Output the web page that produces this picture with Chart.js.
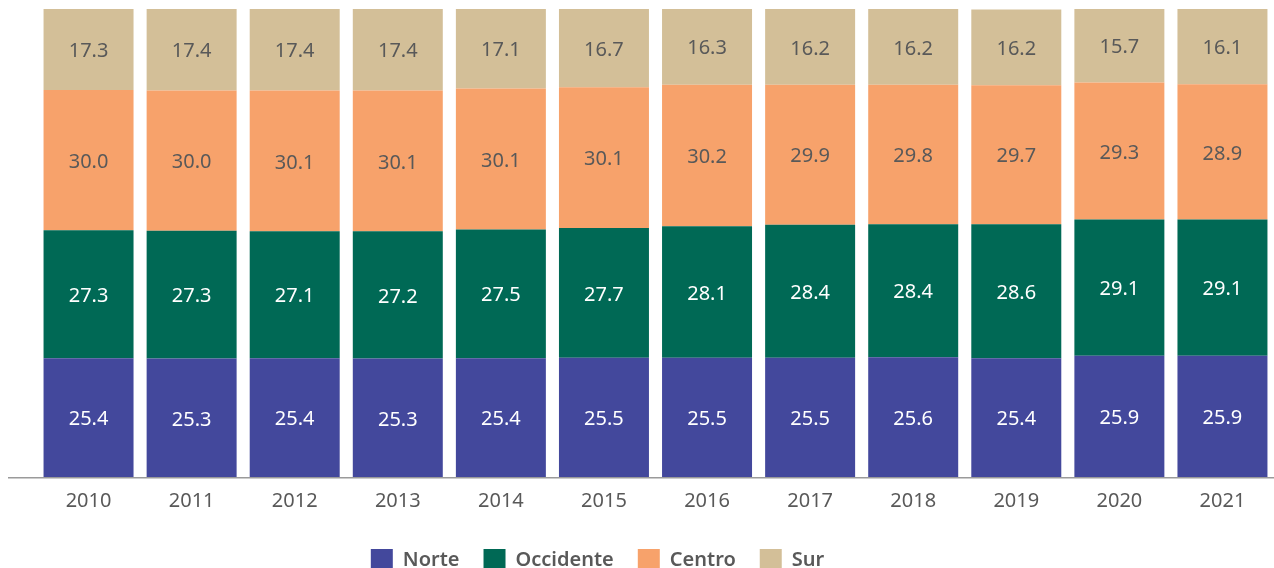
<!DOCTYPE html>
<html>
<head>
<meta charset="utf-8">
<script src="https://cdn.jsdelivr.net/npm/chart.js@4"></script>
<style>
  html, body { margin: 0; padding: 0; background: #fff; }
  #wrap { width: 1274px; height: 568px; position: relative; }
</style>
</head>
<body>
<div id="wrap"><canvas id="c"></canvas></div>
<script>
// Data (percent share per region, each year sums to 100)
const years = ["2010", "2011", "2012", "2013", "2014", "2015", "2016", "2017", "2018", "2019", "2020", "2021"];
const norte     = [25.4, 25.3, 25.4, 25.3, 25.4, 25.5, 25.5, 25.5, 25.6, 25.4, 25.9, 25.9];
const occidente = [27.3, 27.3, 27.1, 27.2, 27.5, 27.7, 28.1, 28.4, 28.4, 28.6, 29.1, 29.1];
const centro    = [30.0, 30.0, 30.1, 30.1, 30.1, 30.1, 30.2, 29.9, 29.8, 29.7, 29.3, 28.9];
const sur       = [17.3, 17.4, 17.4, 17.4, 17.1, 16.7, 16.3, 16.2, 16.2, 16.2, 15.7, 16.1];

const FONT = '"Noto Sans", "Open Sans", sans-serif';
const TEXT = "#595959";

const SERIES = [
  { label: "Norte",     data: norte,     color: "#43489C", text: "#ffffff" },
  { label: "Occidente", data: occidente, color: "#006955", text: "#ffffff" },
  { label: "Centro",    data: centro,    color: "#F7A26B", text: TEXT },
  { label: "Sur",       data: sur,       color: "#D3BF98", text: TEXT },
];

/* value labels in the middle of each segment */
const segmentLabels = {
  id: "segmentLabels",
  afterDatasetsDraw(chart) {
    const ctx = chart.ctx;
    ctx.save();
    ctx.font = `400 20px ${FONT}`;
    ctx.textAlign = "center";
    ctx.textBaseline = "middle";
    chart.data.datasets.forEach((ds, i) => {
      const meta = chart.getDatasetMeta(i);
      if (meta.hidden) return;
      ctx.fillStyle = SERIES[i].text;
      meta.data.forEach((el, j) => {
        const v = ds.data[j];
        if (v == null) return;
        ctx.fillText(Number(v).toFixed(1), el.x, (el.y + el.base) / 2 + 2);
      });
    });
    ctx.restore();
  },
};

/* grey baseline running nearly the full width */
const baseLine = {
  id: "baseLine",
  afterDatasetsDraw(chart) {
    const { ctx, chartArea } = chart;
    ctx.save();
    ctx.strokeStyle = "#9a9a9a";
    ctx.lineWidth = 1.5;
    ctx.beginPath();
    ctx.moveTo(8, chartArea.bottom + 0.75);
    ctx.lineTo(chart.width, chartArea.bottom + 0.75);
    ctx.stroke();
    ctx.restore();
  },
};

/* the legend sits left of centre in the reference */
const legendNudge = {
  id: "legendNudge",
  afterLayout(chart) {
    const lg = chart.legend;
    if (!lg) return;
    lg.left -= 58; lg.right -= 58;
  },
};

const datasets = SERIES.map((s) => ({
  label: s.label,
  data: s.data,
  backgroundColor: s.color,
  borderWidth: 0,
  barPercentage: 0.873,
  categoryPercentage: 1.0,
}));

new Chart(document.getElementById("c"), {
  type: "bar",
  data: { labels: years, datasets },
  options: {
    responsive: true,
    maintainAspectRatio: false,
    animation: false,
    layout: { padding: { left: 37, right: 0, top: 9, bottom: -13 } },
    plugins: {
      legend: {
        position: "bottom",
        labels: {
          boxWidth: 22, boxHeight: 22, padding: 24,
          color: TEXT,
          font: { family: FONT, size: 20, weight: 600 },
        },
      },
      tooltip: { enabled: false },
    },
    scales: {
      x: {
        stacked: true,
        grid: { display: false, drawTicks: false },
        border: { display: false },
        ticks: { color: TEXT, padding: 12, font: { family: FONT, size: 20 } },
      },
      y: {
        stacked: true,
        display: false,
        min: 0, max: 100,
      },
    },
  },
  plugins: [segmentLabels, baseLine, legendNudge],
});
</script>
</body>
</html>
